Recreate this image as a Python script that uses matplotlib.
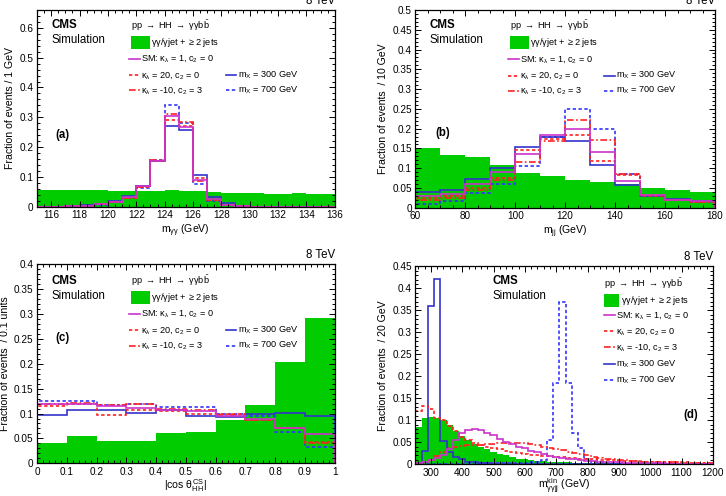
import numpy as np
import matplotlib
matplotlib.use("Agg")
import matplotlib.pyplot as plt
from matplotlib.patches import Rectangle
from matplotlib.ticker import MultipleLocator, FuncFormatter

plt.rcParams['font.family'] = ['Liberation Sans', 'DejaVu Sans']
plt.rcParams['mathtext.fontset'] = 'custom'
plt.rcParams['mathtext.rm'] = 'Liberation Sans'
plt.rcParams['mathtext.it'] = 'Liberation Sans'
plt.rcParams['mathtext.bf'] = 'Liberation Sans:bold'

# ---------------- (a) m_gg, 1 GeV bins 115-136 ----------------
edges_a = np.arange(115, 137, 1)
bkg_a = [0.057, 0.057, 0.056, 0.055, 0.055, 0.054, 0.053, 0.052, 0.052, 0.056, 0.054,
         0.052, 0.050, 0.047, 0.046, 0.047, 0.043, 0.043, 0.048, 0.044, 0.044]
sm_a = [0, 0.001, 0.002, 0.004, 0.008, 0.017, 0.032, 0.069, 0.155, 0.303, 0.266,
        0.091, 0.026, 0.007, 0.002, 0, 0, 0, 0, 0, 0]
k20_a = [0, 0.001, 0.002, 0.004, 0.008, 0.017, 0.031, 0.066, 0.152, 0.292, 0.272,
         0.097, 0.024, 0.006, 0.002, 0, 0, 0, 0, 0, 0]
km10_a = [0, 0.001, 0.002, 0.004, 0.008, 0.016, 0.030, 0.066, 0.158, 0.311, 0.285,
          0.088, 0.022, 0.006, 0.002, 0, 0, 0, 0, 0, 0]
mx300_a = [0, 0.001, 0.002, 0.005, 0.010, 0.019, 0.036, 0.070, 0.152, 0.272, 0.259,
           0.108, 0.033, 0.012, 0.003, 0.001, 0, 0, 0, 0, 0]
mx700_a = [0, 0.001, 0.002, 0.004, 0.007, 0.015, 0.028, 0.062, 0.156, 0.340, 0.281,
           0.075, 0.018, 0.005, 0.001, 0, 0, 0, 0, 0, 0]

# ---------------- (b) m_jj, 10 GeV bins 60-180 ----------------
edges_b = np.arange(60, 190, 10)
bkg_b = [0.151, 0.134, 0.128, 0.107, 0.088, 0.081, 0.071, 0.065, 0.060, 0.050, 0.046, 0.040]
sm_b = [0.030, 0.035, 0.060, 0.090, 0.137, 0.185, 0.200, 0.140, 0.067, 0.032, 0.020, 0.016]
k20_b = [0.025, 0.030, 0.050, 0.075, 0.145, 0.175, 0.185, 0.118, 0.083, 0.030, 0.020, 0.015]
km10_b = [0.020, 0.025, 0.045, 0.070, 0.115, 0.170, 0.223, 0.172, 0.085, 0.033, 0.020, 0.014]
mx300_b = [0.040, 0.045, 0.073, 0.100, 0.153, 0.180, 0.170, 0.108, 0.057, 0.030, 0.022, 0.017]
mx700_b = [0.010, 0.018, 0.037, 0.060, 0.105, 0.180, 0.250, 0.200, 0.085, 0.030, 0.020, 0.014]

# ---------------- (c) |cos theta*|, 0.1 bins ----------------
edges_c = np.round(np.arange(0, 1.05, 0.1), 2)
bkg_c = [0.040, 0.055, 0.045, 0.045, 0.060, 0.062, 0.088, 0.118, 0.203, 0.293]
sm_c = [0.120, 0.120, 0.115, 0.112, 0.108, 0.105, 0.095, 0.090, 0.070, 0.058]
k20_c = [0.115, 0.120, 0.098, 0.107, 0.105, 0.100, 0.100, 0.088, 0.070, 0.042]
km10_c = [0.120, 0.122, 0.118, 0.120, 0.110, 0.108, 0.097, 0.088, 0.070, 0.040]
mx300_c = [0.098, 0.108, 0.107, 0.101, 0.107, 0.095, 0.093, 0.100, 0.101, 0.095]
mx700_c = [0.125, 0.125, 0.118, 0.120, 0.113, 0.113, 0.100, 0.095, 0.062, 0.033]

# ---------------- (d) m_ggjj kin, 20 GeV bins from 250 ----------------
edges_d = np.arange(250, 1230, 20)
bkg_d = [0.085, 0.105, 0.107, 0.105, 0.100, 0.090, 0.075, 0.064, 0.055, 0.047, 0.040, 0.034,
         0.029, 0.024, 0.020, 0.016, 0.013, 0.011, 0.009, 0.008, 0.007, 0.006, 0.005, 0.004,
         0.004, 0.003, 0.003, 0.003, 0.002, 0.002, 0.002, 0.002, 0.002, 0.001, 0.001, 0.001,
         0.001, 0.001, 0.001, 0.001, 0.001, 0.001, 0.001, 0.001, 0.001, 0.001, 0.001, 0.001]
sm_d = [0.003, 0.006, 0.010, 0.015, 0.022, 0.035, 0.055, 0.072, 0.079, 0.080, 0.078, 0.072,
        0.066, 0.058, 0.051, 0.046, 0.040, 0.036, 0.031, 0.027, 0.023, 0.019, 0.016, 0.014,
        0.012, 0.011, 0.009, 0.008, 0.007, 0.006, 0.005, 0.004, 0.004, 0.003, 0.003, 0.003,
        0.002, 0.002, 0.002, 0.002, 0.001, 0.001, 0.001, 0.001, 0.001, 0.001, 0.001, 0.001]
k20_d = [0.120, 0.133, 0.125, 0.105, 0.100, 0.088, 0.075, 0.063, 0.055, 0.048, 0.043, 0.040,
         0.037, 0.034, 0.031, 0.028, 0.026, 0.024, 0.022, 0.020, 0.019, 0.018, 0.017, 0.016,
         0.015, 0.014, 0.013, 0.012, 0.011, 0.010, 0.009, 0.009, 0.008, 0.008, 0.007, 0.007,
         0.006, 0.006, 0.005, 0.005, 0.005, 0.004, 0.004, 0.004, 0.003, 0.003, 0.003, 0.003]
km10_d = [0.002, 0.005, 0.010, 0.018, 0.028, 0.036, 0.040, 0.042, 0.043, 0.043, 0.044, 0.045,
          0.047, 0.049, 0.049, 0.049, 0.048, 0.048, 0.046, 0.043, 0.040, 0.037, 0.034, 0.032,
          0.029, 0.026, 0.024, 0.020, 0.017, 0.015, 0.013, 0.011, 0.010, 0.009, 0.008, 0.007,
          0.006, 0.006, 0.005, 0.005, 0.004, 0.004, 0.003, 0.003, 0.003, 0.002, 0.002, 0.002]
mx300_d = [0.003, 0.030, 0.360, 0.422, 0.052, 0.029, 0.017, 0.011, 0.006, 0.004, 0.003, 0.002,
           0.001, 0.001, 0.001, 0, 0, 0, 0, 0, 0, 0, 0, 0,
           0, 0, 0, 0, 0, 0, 0, 0, 0, 0, 0, 0, 0, 0, 0, 0, 0, 0, 0, 0, 0, 0, 0, 0]
mx700_d = [0, 0, 0, 0.001, 0.001, 0.001, 0.001, 0.001, 0.001, 0.001, 0.002, 0.002,
           0.002, 0.002, 0.002, 0.003, 0.003, 0.003, 0.004, 0.005, 0.010, 0.055, 0.185, 0.370,
           0.185, 0.070, 0.036, 0.012, 0.006, 0.004, 0.003, 0.002, 0.002, 0.001, 0.001, 0.001,
           0.001, 0, 0, 0, 0, 0, 0, 0, 0, 0, 0, 0]

# styles
GREEN = '#00cc00'
MAG = '#cc33cc'
RED = '#ff2020'
BLUE = '#3333cc'
BLUE2 = '#3333ff'
DOT = (0, (2, 1.5))
DASHDOT = (0, (4, 1.5, 1, 1.5))

labels = {
    'sm': r'SM: $\kappa_{\lambda}$ = 1, c$_{2}$ = 0',
    'k20': r'$\kappa_{\lambda}$ = 20, c$_{2}$ = 0',
    'km10': r'$\kappa_{\lambda}$ = -10, c$_{2}$ = 3',
    'mx300': r'm$_{\mathrm{X}}$ = 300 GeV',
    'mx700': r'm$_{\mathrm{X}}$ = 700 GeV',
}
styles = {
    'sm': (MAG, '-'),
    'k20': (RED, DOT),
    'km10': (RED, DASHDOT),
    'mx300': (BLUE, '-'),
    'mx700': (BLUE2, DOT),
}
title_txt = r'pp $\rightarrow$ HH $\rightarrow$ $\gamma\gamma$b$\bar{\mathrm{b}}$'
bkg_txt = r'$\gamma\gamma/\gamma$jet + $\geq$2 jets'
FS = 6.6      # legend text
TFS = 7.2     # tick labels
LFS = 7.6     # axis titles
CFS = 8.3     # CMS / Simulation


def draw_hists(ax, edges, bkg, series):
    ax.stairs(bkg, edges, fill=True, color=GREEN, lw=0)
    for key in ['mx700', 'mx300', 'km10', 'k20', 'sm']:
        c, ls = styles[key]
        ax.stairs(series[key], edges, color=c, linestyle=ls, lw=1.2)


def legend_item(ax, x0, y, key):
    c, ls = styles[key]
    ax.plot([x0, x0 + 0.035], [y, y], color=c, linestyle=ls, lw=1.2,
            transform=ax.transAxes, clip_on=False)
    ax.text(x0 + 0.04, y, labels[key], transform=ax.transAxes, fontsize=FS, va='center')


def two_col_legend(ax, x0, x1, rows):
    ax.text(x0 + 0.005, rows[0], title_txt, transform=ax.transAxes, fontsize=FS, va='center')
    ax.add_patch(Rectangle((x0 + 0.005, rows[1] - 0.033), 0.065, 0.066, color=GREEN,
                           transform=ax.transAxes, lw=0))
    ax.text(x0 + 0.073, rows[1], bkg_txt, transform=ax.transAxes, fontsize=FS, va='center')
    legend_item(ax, x0, rows[2], 'sm')
    legend_item(ax, x0, rows[3], 'k20')
    legend_item(ax, x0, rows[4], 'km10')
    legend_item(ax, x1, rows[3], 'mx300')
    legend_item(ax, x1, rows[4], 'mx700')


def cms_label(ax, x, y1, y2):
    ax.text(x, y1, 'CMS', transform=ax.transAxes, fontsize=CFS, fontweight='bold', va='center')
    ax.text(x, y2, 'Simulation', transform=ax.transAxes, fontsize=CFS, va='center')


def style_axes(ax, xmaj, xmin, ymaj, ymin, xlim, ylim, xlabel, ylabel, xpad=2):
    ax.set_xlim(*xlim)
    ax.set_ylim(*ylim)
    ax.xaxis.set_major_locator(MultipleLocator(xmaj))
    ax.xaxis.set_minor_locator(MultipleLocator(xmin))
    ax.yaxis.set_major_locator(MultipleLocator(ymaj))
    ax.yaxis.set_minor_locator(MultipleLocator(ymin))
    fmt = FuncFormatter(lambda v, p: '%g' % round(v, 4))
    ax.xaxis.set_major_formatter(fmt)
    ax.yaxis.set_major_formatter(fmt)
    ax.tick_params(which='both', direction='in', top=True, right=True, labelsize=TFS, width=0.7)
    ax.tick_params(which='major', length=4.5, pad=2.5)
    ax.tick_params(which='minor', length=2.2)
    for s in ax.spines.values():
        s.set_linewidth(0.9)
    ax.set_xlabel(xlabel, fontsize=LFS, labelpad=xpad)
    ax.set_ylabel(ylabel, fontsize=LFS, labelpad=3)
    ax.text(1.0, 1.015, '8 TeV', transform=ax.transAxes, ha='right', va='bottom', fontsize=CFS)


fig = plt.figure(figsize=(7.26, 4.96), dpi=100)
ax_a = fig.add_axes([0.051, 0.583, 0.410, 0.397])
ax_b = fig.add_axes([0.572, 0.581, 0.413, 0.399])
ax_c = fig.add_axes([0.051, 0.066, 0.410, 0.401])
ax_d = fig.add_axes([0.572, 0.064, 0.410, 0.399])

rows = [0.92, 0.835, 0.752, 0.668, 0.592]

# (a)
draw_hists(ax_a, edges_a, bkg_a, dict(sm=sm_a, k20=k20_a, km10=km10_a, mx300=mx300_a, mx700=mx700_a))
style_axes(ax_a, 2, 0.5, 0.1, 0.02, (115, 136), (0, 0.66),
           r'm$_{\gamma\gamma}$ (GeV)', 'Fraction of events / 1 GeV')
two_col_legend(ax_a, 0.31, 0.635, rows)
cms_label(ax_a, 0.05, 0.924, 0.848)
ax_a.text(0.06, 0.365, '(a)', transform=ax_a.transAxes, fontsize=CFS, fontweight='bold', va='center')

# (b)
draw_hists(ax_b, edges_b, bkg_b, dict(sm=sm_b, k20=k20_b, km10=km10_b, mx300=mx300_b, mx700=mx700_b))
style_axes(ax_b, 20, 5, 0.05, 0.01, (60, 180), (0, 0.5),
           r'm$_{\mathrm{jj}}$ (GeV)', 'Fraction of events  / 10 GeV')
two_col_legend(ax_b, 0.31, 0.63, rows)
cms_label(ax_b, 0.047, 0.924, 0.848)
ax_b.text(0.067, 0.379, '(b)', transform=ax_b.transAxes, fontsize=CFS, fontweight='bold', va='center')

# (c)
draw_hists(ax_c, edges_c, bkg_c, dict(sm=sm_c, k20=k20_c, km10=km10_c, mx300=mx300_c, mx700=mx700_c))
style_axes(ax_c, 0.1, 0.02, 0.05, 0.01, (0, 1), (0, 0.4),
           r'|cos $\theta^{\mathrm{CS}}_{\mathrm{HH}}$|', 'Fraction of events  / 0.1 units', xpad=0)
two_col_legend(ax_c, 0.31, 0.635, rows)
cms_label(ax_c, 0.05, 0.915, 0.84)
ax_c.text(0.06, 0.63, '(c)', transform=ax_c.transAxes, fontsize=CFS, fontweight='bold', va='center')

# (d)
draw_hists(ax_d, edges_d, bkg_d, dict(sm=sm_d, k20=k20_d, km10=km10_d, mx300=mx300_d, mx700=mx700_d))
style_axes(ax_d, 100, 20, 0.05, 0.01, (250, 1200), (0, 0.45),
           r'm$^{\mathrm{kin}}_{\gamma\gamma\mathrm{jj}}$ (GeV)', 'Fraction of events  / 20 GeV', xpad=-1)
drows = [0.914, 0.828, 0.753, 0.672, 0.591, 0.505, 0.424]
ax_d.text(0.635, drows[0], title_txt, transform=ax_d.transAxes, fontsize=FS, va='center')
ax_d.add_patch(Rectangle((0.635, drows[1] - 0.033), 0.05, 0.066, color=GREEN,
                         transform=ax_d.transAxes, lw=0))
ax_d.text(0.69, drows[1], bkg_txt, transform=ax_d.transAxes, fontsize=FS, va='center')
for key, y in zip(['sm', 'k20', 'km10', 'mx300', 'mx700'], drows[2:]):
    legend_item(ax_d, 0.635, y, key)
cms_label(ax_d, 0.26, 0.924, 0.848)
ax_d.text(0.9, 0.247, '(d)', transform=ax_d.transAxes, fontsize=CFS, fontweight='bold', va='center')

fig.savefig('out.png', dpi=100)
